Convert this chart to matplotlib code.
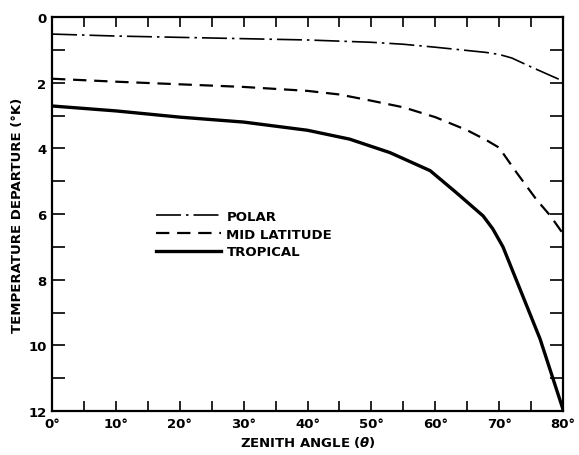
import numpy as np
import matplotlib.pyplot as plt

# zenith angle (deg) and temperature departure (K)
ang_polar = [0, 10, 20, 30, 40, 50, 55, 60, 65, 68, 70, 72, 75, 78, 80]
polar = [0.52, 0.58, 0.62, 0.66, 0.70, 0.77, 0.83, 0.92, 1.02, 1.08, 1.14, 1.25, 1.52, 1.78, 1.95]

ang_mid = [0, 10, 20, 30, 40, 45, 50, 55, 60, 65, 68, 70, 72.7, 75.8, 78, 80]
mid = [1.88, 1.97, 2.05, 2.13, 2.25, 2.36, 2.55, 2.75, 3.05, 3.45, 3.75, 3.98, 4.73, 5.55, 6.05, 6.6]

ang_trop = [0, 10, 20, 30, 40, 46.6, 52.9, 59.2, 63.3, 67.5, 69, 70.6, 73.5, 76.4, 80]
trop = [2.71, 2.86, 3.05, 3.2, 3.45, 3.72, 4.13, 4.68, 5.35, 6.06, 6.45, 7.0, 8.4, 9.8, 11.95]

xticks = [0, 10, 20, 30, 40, 50, 60, 70, 80]
xlabels = ["0°", "10°", "20°", "30°", "40°", "50°", "60°", "70°", "80°"]
yticks = [0, 2, 4, 6, 8, 10, 12]

plt.rcParams['font.family'] = ['DejaVu Sans']
plt.rcParams['font.weight'] = 'bold'

fig = plt.figure(figsize=(5.79, 4.56), dpi=100)
ax = fig.add_axes([52 / 579, 1 - 412 / 456, (563 - 52) / 579, (412 - 18) / 456])

ax.plot(ang_polar, polar, color="black", lw=1.2, dashes=(15, 3, 1.5, 3), label="POLAR")
ax.plot(ang_mid, mid, color="black", lw=1.6, dashes=(6, 3.5), label="MID LATITUDE")
ax.plot(ang_trop, trop, color="black", lw=2.4, label="TROPICAL")

ax.set_xlim(0, 80)
ax.set_ylim(12, 0)
ax.set_xticks(xticks)
ax.set_xticklabels(xlabels)
ax.set_xticks(np.arange(5, 80, 10), minor=True)
ax.set_yticks(yticks)
ax.set_yticks(np.arange(1, 12, 2), minor=True)

ax.tick_params(which="both", direction="in", top=True, right=True, width=1.2,
               labelsize=9.5, pad=4)
ax.tick_params(axis="x", which="both", length=7)
ax.tick_params(axis="y", which="both", length=9.5)
for s in ax.spines.values():
    s.set_linewidth(1.6)

ax.set_xlabel(r"ZENITH ANGLE ($\boldsymbol{\theta}$)", fontsize=9.5, fontweight="bold", labelpad=3)
ax.set_ylabel("TEMPERATURE DEPARTURE (°K)", fontsize=9.5, fontweight="bold", labelpad=3)

ax.legend(loc="upper left", bbox_to_anchor=(0.18, 0.54), frameon=False, handlelength=4.9,
          handletextpad=0.45, labelspacing=0.35, fontsize=9.5)

fig.savefig("out.png", dpi=100)
